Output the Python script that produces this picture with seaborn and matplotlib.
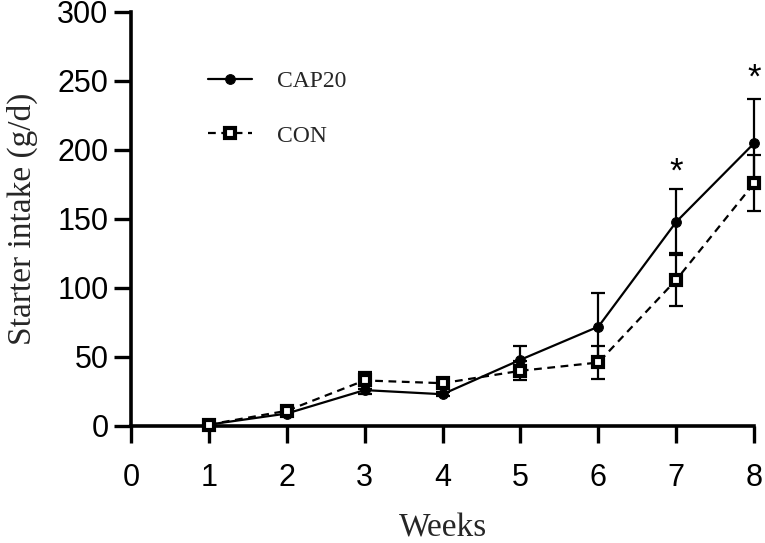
import matplotlib
matplotlib.use("Agg")
import matplotlib.pyplot as plt
import seaborn as sns
import pandas as pd
import numpy as np

weeks = [1, 2, 3, 4, 5, 6, 7, 8]
cap20_mean = [1, 9, 26, 23, 48, 72, 148, 205]
cap20_sd = [0.5, 1.5, 3, 1.5, 10, 24, 24, 32]
con_mean = [1, 11, 33, 31, 40, 46, 106, 176]
con_sd = [0.5, 1.5, 6, 2, 7, 12, 19, 20]
star_weeks = [7, 8]
star_heights = [184, 252]
x_ticks = [0, 1, 2, 3, 4, 5, 6, 7, 8]
y_ticks = [0, 50, 100, 150, 200, 250, 300]

sns.set_theme(style="ticks")
plt.rcParams['font.family'] = ['Liberation Sans', 'DejaVu Sans']

df = pd.DataFrame({
    "Weeks": weeks * 2,
    "Intake": cap20_mean + con_mean,
    "Group": ["CAP20"] * len(weeks) + ["CON"] * len(weeks),
})

fig = plt.figure(figsize=(7.65, 5.43), dpi=100)
ax = fig.add_axes([0.171, 0.2155, 0.815, 0.7625])

# error bars
ax.errorbar(weeks, cap20_mean, yerr=cap20_sd, fmt='none', ecolor='black',
            elinewidth=1.6, capsize=5, capthick=1.6, clip_on=False, zorder=3)
ax.errorbar(weeks, con_mean, yerr=con_sd, fmt='none', ecolor='black',
            elinewidth=1.6, capsize=5, capthick=1.6, clip_on=False, zorder=3)

sns.lineplot(data=df[df.Group == "CAP20"], x="Weeks", y="Intake", ax=ax,
             color='black', linewidth=1.6, marker='o', markersize=7,
             markeredgecolor='black', markerfacecolor='black',
             label="CAP20", clip_on=False, zorder=4)
sns.lineplot(data=df[df.Group == "CON"], x="Weeks", y="Intake", ax=ax,
             color='black', linewidth=1.6, linestyle=(0, (3.5, 2.5)), marker='s',
             markersize=7, markeredgecolor='black', markerfacecolor='white',
             markeredgewidth=3.0, label="CON", clip_on=False, zorder=5)

for w, h in zip(star_weeks, star_heights):
    ax.text(w, h, "*", ha='center', va='center', fontsize=25, color='black')

ax.set_xlim(0, 8)
ax.set_ylim(0, 300)
ax.set_xticks(x_ticks)
ax.set_yticks(y_ticks)
ax.tick_params(axis='both', labelsize=22, length=12, width=2.4, color='black',
               labelcolor='black')
ax.tick_params(axis='x', pad=15)
ax.tick_params(axis='y', pad=4)
for s in ['top', 'right']:
    ax.spines[s].set_visible(False)
for s in ['left', 'bottom']:
    ax.spines[s].set_linewidth(2.6)
    ax.spines[s].set_color('black')

ax.set_xlabel("Weeks", fontsize=24, family=['Liberation Serif'], labelpad=14)
ax.set_ylabel("Starter intake (g/d)", fontsize=24, family=['Liberation Serif'], labelpad=14)

leg = ax.legend(loc='upper left', bbox_to_anchor=(0.09, 0.91), frameon=False,
                prop={'family': 'Liberation Serif', 'size': 17},
                handlelength=1.85, labelspacing=1.4, handletextpad=1.05)

fig.savefig("out.png", dpi=100)
